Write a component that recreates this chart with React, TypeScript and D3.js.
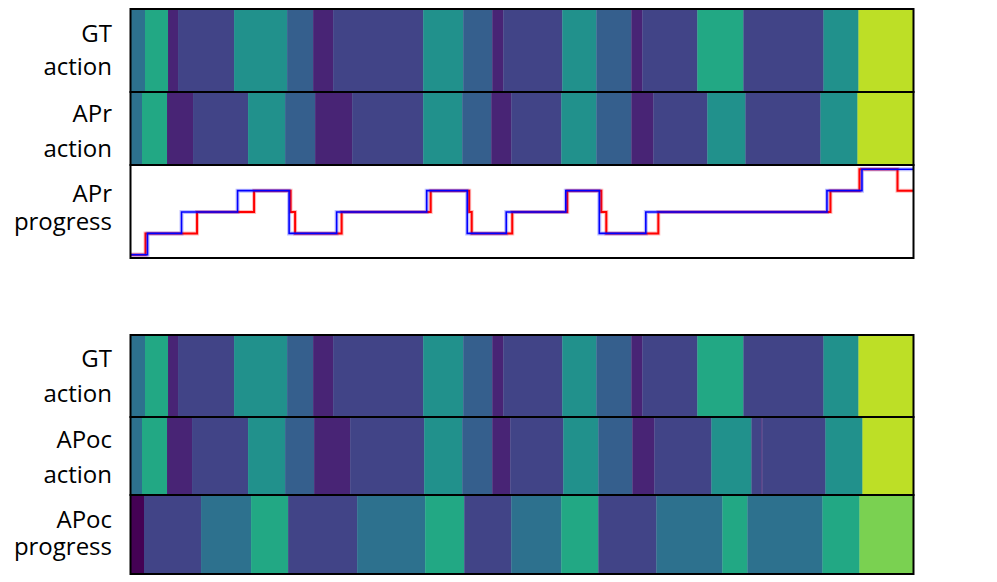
import React from "react";
import * as d3 from "d3";

// ---- data (frame units) ----
const TOTAL_FRAMES = 782;
// class index -> viridis position
const classViridis = [0.0, 0.1, 0.2, 0.3, 0.37, 0.5, 0.6, 0.8, 0.9];
// 0 dark, 1 purple, 2 indigo, 3 blue, 4 tealblue, 5 teal, 6 green, 7 lightgreen, 8 yellow

const gtBounds = [0, 14, 37, 47, 103, 156, 182, 202, 292, 332, 361, 372, 431, 465, 500, 511, 566, 612, 692, 727, 782];
const gtClasses = [4, 6, 1, 2, 5, 3, 1, 2, 5, 3, 1, 2, 5, 3, 1, 2, 6, 2, 5, 8];

const aprBounds = [0, 11, 36, 62, 117, 154, 184, 221, 292, 331, 360, 380, 430, 465, 500, 522, 576, 614, 689, 726, 782];
const aprClasses = [4, 6, 1, 2, 5, 3, 1, 2, 5, 3, 1, 2, 5, 3, 1, 2, 5, 2, 5, 8];

const apocActBounds = [0, 11, 36, 61, 117, 154, 183, 219, 293, 331, 361, 379, 432, 467, 501, 523, 580, 620, 630, 631, 694, 731, 782];
const apocActClasses = [4, 6, 1, 2, 5, 3, 1, 2, 5, 3, 1, 2, 5, 3, 1, 2, 5, 2, 1, 2, 5, 8];

const apocProgBounds = [0, 13, 70, 120, 157, 226, 294, 333, 380, 430, 467, 525, 591, 616, 691, 728, 782];
const apocProgClasses = [0, 2, 4, 6, 2, 4, 6, 2, 4, 6, 2, 4, 6, 4, 6, 7];

// progress step lines: change frames and levels
const blueT = [0, 16.5, 50.5, 106.5, 158, 205.5, 295.5, 336, 375, 434.5, 468, 514.5, 695.5, 730.5];
const blueV = [0, 1, 2, 3, 1, 2, 3, 1, 2, 3, 1, 2, 3, 4];
const redT = [0, 14.5, 66, 123, 159.5, 164, 210.5, 299.5, 338, 340.5, 381, 436, 470, 475, 527, 699, 728, 766];
const redV = [0, 1, 2, 3, 2, 1, 2, 3, 2, 1, 2, 3, 2, 1, 2, 3, 4, 3];

const labelsTop = [["GT", "action"], ["APr", "action"], ["APr", "progress"]];
const labelsBottom = [["GT", "action"], ["APoc", "action"], ["APoc", "progress"]];

// ---- layout ----
const X0 = 131;
const X1 = 913.5;
const topRows = [[9, 92], [92, 165], [165, 258]];
const botRows = [[335, 417], [417, 495], [495, 574]];
const labelBaselines = [[32.5, 66], [29.5, 64.5], [36.5, 65]];
const labelBaselinesBot = [[31.7, 66.7], [31.3, 66.3], [33.3, 60]];

const x = d3.scaleLinear().domain([0, TOTAL_FRAMES]).range([X0, X1]);
const color = (c: number) => d3.interpolateViridis(classViridis[c]);

function Strip({ bounds, classes, y0, y1 }: { bounds: number[]; classes: number[]; y0: number; y1: number }) {
  return (
    <g>
      {classes.map((c, i) => (
        <rect
          key={i}
          x={x(bounds[i])}
          y={y0}
          width={Math.max(0, x(bounds[i + 1]) - x(bounds[i])) + 0.3}
          height={y1 - y0}
          fill={color(c)}
        />
      ))}
    </g>
  );
}

function Progress({ y0, y1 }: { y0: number; y1: number }) {
  const y = d3.scaleLinear().domain([-0.15, 4.2]).range([y1, y0]);
  const line = d3
    .line<[number, number]>()
    .x((d) => x(d[0]))
    .y((d) => y(d[1]))
    .curve(d3.curveStepAfter);
  const mk = (T: number[], V: number[]) => {
    const pts: [number, number][] = T.map((t, i) => [t, V[i]]);
    pts.push([TOTAL_FRAMES, V[V.length - 1]]);
    return line(pts) || "";
  };
  const red = mk(redT, redV);
  const blue = mk(blueT, blueV);
  return (
    <g>
      <rect x={X0} y={y0} width={X1 - X0} height={y1 - y0} fill="#ffffff" />
      <path d={red} fill="none" stroke="#ff0000" strokeOpacity={0.25} strokeWidth={4} />
      <path d={red} fill="none" stroke="#ff0000" strokeWidth={2} />
      <path d={blue} fill="none" stroke="#0000ff" strokeOpacity={0.25} strokeWidth={4} />
      <path d={blue} fill="none" stroke="#0000ff" strokeWidth={1.6} />
    </g>
  );
}

function Labels({ rows, labels, baselines }: { rows: number[][]; labels: string[][]; baselines: number[][] }) {
  return (
    <g fontFamily="'Open Sans', 'Noto Sans', sans-serif" fontSize={24} fill="#000" textAnchor="end">
      {labels.map((lines, i) =>
        lines.map((t, j) => (
          <text key={i + "-" + j} x={112} y={rows[i][0] + baselines[i][j]}>
            {t}
          </text>
        ))
      )}
    </g>
  );
}

function Frame({ rows }: { rows: number[][] }) {
  return (
    <g fill="none" stroke="#000" strokeWidth={2}>
      {rows.map((r, i) => (
        <rect key={i} x={X0 - 0.5} y={r[0]} width={X1 - X0 + 0.5} height={r[1] - r[0]} />
      ))}
    </g>
  );
}

export default function App() {
  return (
    <svg width={997} height={582} style={{ position: "absolute", left: 0, top: 0, background: "#fff" }}>
      <rect x={0} y={0} width={997} height={582} fill="#fff" />
      <Strip bounds={gtBounds} classes={gtClasses} y0={topRows[0][0]} y1={topRows[0][1]} />
      <Strip bounds={aprBounds} classes={aprClasses} y0={topRows[1][0]} y1={topRows[1][1]} />
      <Progress y0={topRows[2][0]} y1={topRows[2][1]} />
      <Frame rows={topRows} />
      <Labels rows={topRows} labels={labelsTop} baselines={labelBaselines} />

      <Strip bounds={gtBounds} classes={gtClasses} y0={botRows[0][0]} y1={botRows[0][1]} />
      <Strip bounds={apocActBounds} classes={apocActClasses} y0={botRows[1][0]} y1={botRows[1][1]} />
      <Strip bounds={apocProgBounds} classes={apocProgClasses} y0={botRows[2][0]} y1={botRows[2][1]} />
      <Frame rows={botRows} />
      <Labels rows={botRows} labels={labelsBottom} baselines={labelBaselinesBot} />
    </svg>
  );
}
